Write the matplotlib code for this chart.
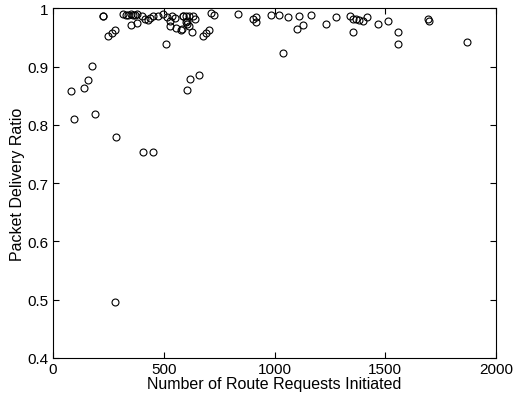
import matplotlib
matplotlib.use("Agg")
import matplotlib.pyplot as plt
from matplotlib.ticker import FuncFormatter

plt.rcParams['font.family'] = ['Liberation Sans', 'DejaVu Sans']

route_requests = [
    81, 95, 141, 160, 177, 190, 224, 226, 250, 265, 280, 283, 280,
    317, 330, 340, 350, 360, 370, 380, 352, 378, 400, 408, 451,
    415, 430, 438, 453, 475, 498, 510, 513, 528, 536, 551, 528, 555, 576,
    588, 603, 585, 600, 615, 631, 641, 600, 606, 615, 581, 626, 603, 617, 659,
    679, 691, 704, 713, 728, 837, 904, 915, 915, 983, 1022, 1040, 1062, 1112,
    1103, 1130, 1163, 1233, 1278, 1341, 1356, 1368, 1380, 1398, 1419, 1353,
    1469, 1511, 1559, 1559, 1694, 1697, 1870,
]
delivery_ratio = [
    0.858, 0.810, 0.863, 0.877, 0.901, 0.819, 0.987, 0.986, 0.953, 0.957, 0.962, 0.779, 0.496,
    0.990, 0.988, 0.989, 0.990, 0.988, 0.989, 0.990, 0.971, 0.975, 0.986, 0.754, 0.754,
    0.982, 0.980, 0.983, 0.986, 0.987, 0.990, 0.938, 0.985, 0.979, 0.987, 0.983, 0.970, 0.966, 0.963,
    0.987, 0.979, 0.987, 0.986, 0.987, 0.986, 0.982, 0.976, 0.973, 0.970, 0.964, 0.959, 0.859, 0.878, 0.885,
    0.953, 0.957, 0.962, 0.992, 0.988, 0.990, 0.982, 0.985, 0.977, 0.988, 0.988, 0.923, 0.985, 0.987,
    0.964, 0.972, 0.988, 0.973, 0.985, 0.986, 0.982, 0.982, 0.980, 0.978, 0.985, 0.959,
    0.973, 0.979, 0.959, 0.939, 0.982, 0.979, 0.942,
]

x_ticks = [0, 500, 1000, 1500, 2000]
y_ticks = [0.4, 0.5, 0.6, 0.7, 0.8, 0.9, 1.0]

fig = plt.figure(figsize=(5.16, 4.02), dpi=100)
ax = fig.add_axes([53/516, 1 - 359/402, 443/516, (359 - 9.3)/402])

ax.plot(route_requests, delivery_ratio, linestyle='none', marker='o',
        markersize=5, markerfacecolor='none', markeredgecolor='black',
        markeredgewidth=0.8)

ax.set_xlim(0, 2000)
ax.set_ylim(0.4, 1.0)
ax.set_xticks(x_ticks)
ax.set_yticks(y_ticks)
ax.yaxis.set_major_formatter(FuncFormatter(lambda v, p: ('%g' % round(v, 2))))
ax.tick_params(direction='in', top=True, right=True, length=4, width=0.8,
               labelsize=11, pad=3)
for s in ax.spines.values():
    s.set_linewidth(0.8)

ax.set_xlabel('Number of Route Requests Initiated', fontsize=11.5, labelpad=0)
ax.set_ylabel('Packet Delivery Ratio', fontsize=11.5, labelpad=2)

fig.savefig('out.png', dpi=100)
